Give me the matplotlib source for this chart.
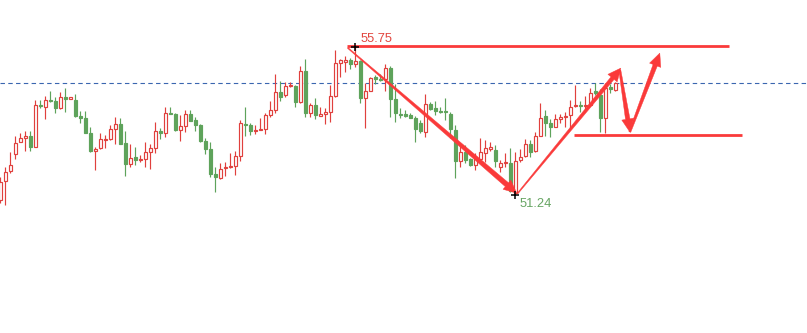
import matplotlib
matplotlib.use("Agg")
import matplotlib.pyplot as plt
import numpy as np
from matplotlib.patches import Polygon

# ---- data (prices) ----
opens = [51.02, 51.61, 51.92, 52.44, 52.79, 52.92, 52.98, 52.66, 53.94, 53.88,
         54.09, 54.06, 53.85, 54.17, 54.13, 54.09, 53.60, 53.53, 53.09, 52.53,
         52.61, 52.87, 52.88, 53.21, 53.34, 52.77, 52.13, 52.33, 52.26, 52.29,
         52.50, 52.63, 53.15, 53.09, 53.70, 53.66, 53.18, 53.30, 53.66, 53.48,
         53.32, 52.83, 52.59, 51.82, 51.70, 52.01, 52.03, 52.07, 52.38, 53.35,
         53.31, 53.15, 53.18, 53.21, 53.63, 53.78, 54.34, 54.24, 54.51, 54.52,
         54.04, 54.97, 53.68, 53.94, 53.61, 53.65, 53.73, 54.22, 55.24, 55.27,
         55.32, 55.19, 55.29, 54.16, 54.38, 54.81, 54.73, 54.73, 55.07, 54.12,
         53.67, 53.67, 53.63, 53.53, 53.38, 53.12, 53.98, 53.84, 53.75, 53.74,
         53.66, 53.17, 52.23, 52.49, 52.27, 52.10, 52.27, 52.47, 52.59, 52.56,
         52.04, 52.15, 52.15, 51.24, 52.24, 52.38, 52.74, 52.52, 52.98, 53.60,
         53.39, 53.27, 53.52, 53.57, 53.63, 53.91, 53.94, 53.91, 53.94, 54.38,
         54.24, 53.53, 54.48, 54.40]
highs = [51.74, 52.04, 52.50, 52.98, 53.09, 53.14, 53.15, 54.09, 54.09, 54.21,
         54.37, 54.17, 54.34, 54.46, 54.17, 54.27, 53.75, 53.75, 53.27, 52.64,
         53.07, 53.02, 53.32, 53.56, 53.53, 53.14, 52.73, 52.64, 52.40, 52.79,
         52.74, 53.41, 53.22, 53.87, 53.87, 53.70, 53.63, 53.78, 53.78, 53.58,
         53.34, 52.91, 52.81, 52.04, 52.15, 52.20, 52.45, 52.52, 53.48, 53.87,
         53.37, 53.31, 53.54, 53.68, 54.06, 54.89, 54.66, 54.64, 54.63, 54.54,
         55.13, 55.35, 54.01, 54.16, 53.87, 53.84, 54.55, 55.63, 55.35, 55.44,
         55.37, 55.75, 55.32, 54.60, 54.81, 54.86, 54.88, 55.20, 55.13, 54.57,
         53.85, 53.78, 53.70, 53.59, 53.48, 54.26, 54.02, 54.05, 53.88, 54.15,
         53.71, 53.32, 52.71, 52.71, 52.32, 52.47, 52.92, 52.86, 52.81, 52.71,
         52.25, 52.47, 52.61, 52.50, 52.58, 52.88, 52.86, 53.12, 54.01, 53.78,
         53.50, 53.65, 53.65, 53.73, 54.09, 54.55, 54.06, 54.21, 54.45, 54.62,
         54.42, 54.62, 54.58, 54.65]
lows = [50.94, 50.87, 51.86, 52.28, 52.79, 52.53, 52.53, 52.66, 53.85, 53.51,
        54.04, 53.70, 53.81, 53.73, 54.13, 53.58, 53.37, 53.09, 52.49, 51.94,
        52.59, 52.63, 52.86, 52.73, 52.74, 51.77, 52.04, 52.09, 52.20, 52.04,
        51.98, 52.47, 52.89, 52.96, 53.66, 53.14, 52.84, 53.12, 53.45, 53.15,
        52.80, 52.44, 51.74, 51.27, 51.66, 51.77, 51.99, 51.79, 52.23, 52.99,
        53.02, 53.05, 53.17, 53.06, 53.58, 53.70, 54.07, 54.17, 54.48, 53.88,
        54.01, 53.58, 53.58, 53.51, 53.59, 53.34, 53.42, 54.19, 54.81, 54.96,
        55.04, 55.11, 54.01, 53.24, 54.38, 54.57, 54.67, 54.36, 53.58, 53.42,
        53.55, 53.56, 53.53, 52.81, 53.08, 52.95, 53.78, 53.63, 53.68, 53.48,
        52.91, 51.70, 52.04, 52.15, 52.06, 51.94, 52.15, 52.20, 52.53, 52.04,
        51.87, 52.04, 51.26, 51.24, 52.20, 52.35, 52.35, 52.50, 52.98, 52.98,
        52.96, 53.27, 53.39, 53.27, 53.22, 53.88, 53.73, 53.83, 53.91, 54.24,
        53.12, 53.07, 54.30, 54.38]
closes = [51.58, 51.87, 52.09, 52.76, 52.92, 52.98, 52.66, 53.94, 53.91, 54.09,
          54.06, 53.85, 54.17, 54.13, 54.17, 53.61, 53.55, 53.09, 52.52, 52.59,
          52.88, 52.88, 53.19, 53.34, 52.74, 52.12, 52.30, 52.25, 52.28, 52.48,
          52.61, 53.14, 53.09, 53.68, 53.67, 53.17, 53.28, 53.65, 53.45, 53.33,
          52.83, 52.59, 51.83, 51.72, 51.97, 52.03, 52.06, 52.37, 53.37, 53.32,
          53.15, 53.18, 53.21, 53.63, 53.78, 54.33, 54.17, 54.52, 54.56, 54.03,
          54.97, 53.68, 53.93, 53.63, 53.65, 53.73, 54.21, 55.22, 55.32, 55.32,
          55.19, 55.29, 54.14, 54.37, 54.77, 54.73, 54.69, 55.07, 54.12, 53.68,
          53.63, 53.61, 53.55, 53.21, 53.14, 53.97, 53.81, 53.76, 53.71, 53.71,
          53.20, 52.23, 52.49, 52.25, 52.10, 52.33, 52.49, 52.62, 52.64, 52.23,
          52.15, 52.18, 51.30, 52.22, 52.34, 52.73, 52.50, 52.98, 53.55, 53.39,
          53.27, 53.51, 53.56, 53.60, 53.87, 53.94, 53.90, 53.94, 54.31, 54.30,
          53.53, 54.45, 54.42, 54.60]

ref_level = 54.61          # dashed reference line
high_label = "55.75"
low_label = "51.24"
high_price = 55.75
low_price = 51.24
high_idx = 71
low_idx = 103

# drawn levels: (price, start index, end index)
top_level = (55.75, 69.4, 145.7)
bottom_level = (53.02, 114.7, 148.3)

# drawn arrows: (x0, y0, x1, y1) in (candle index, price)
arrow_pts = [
    (69.5, 55.69, 103.3, 51.23),
    (103.5, 51.23, 124.1, 55.07),
    (123.9, 55.01, 125.9, 53.11),
    (125.9, 53.11, 131.9, 55.53),
]
arrow_widths = [(1.0, 5.0), (1.0, 4.0), (2.0, 4.5), (2.0, 4.5)]

RED = "#e0403d"
GREEN = "#5ea35b"
LINE_RED = "#fa3a3a"

fig = plt.figure(figsize=(8.07, 3.33), dpi=100)
ax = fig.add_axes([0, 0, 1, 1])
ax.set_xlim(-0.06, -0.06 + 807 / 5)
ax.set_ylim(46.94, 57.16)
ax.axis("off")

idx = np.arange(len(opens))
o = np.array(opens); h = np.array(highs); l = np.array(lows); c = np.array(closes)
up = c >= o
colors = np.where(up, RED, GREEN)

ax.vlines(idx, l, h, colors=colors, linewidth=0.85, zorder=2)
bottoms = np.minimum(o, c)
heights = np.maximum(np.abs(c - o), 0.02)
ax.bar(idx[up], heights[up], bottom=bottoms[up], width=0.58,
       facecolor="white", edgecolor=RED, linewidth=0.85, zorder=3)
ax.bar(idx[~up], heights[~up], bottom=bottoms[~up], width=0.58,
       facecolor=GREEN, edgecolor=GREEN, linewidth=0.85, zorder=3)

ax.axhline(ref_level, color="#3a66b0", linewidth=0.8, linestyle=(0, (4, 3)), zorder=1)

ax.hlines(top_level[0], top_level[1], top_level[2], color=LINE_RED, linewidth=2.0, zorder=4)
ax.hlines(bottom_level[0], bottom_level[1], bottom_level[2], color=LINE_RED, linewidth=2.0, zorder=4)

inv = ax.transData.inverted()
for (x0, y0, x1, y1), (w0, w1) in zip(arrow_pts, arrow_widths):
    P0 = ax.transData.transform((x0, y0))
    P1 = ax.transData.transform((x1, y1))
    d = P1 - P0
    L = np.hypot(*d)
    u = d / L
    n = np.array([-u[1], u[0]])
    hl, hw = 13.0, 12.0
    B = P1 - u * hl
    pts = [P0 + n * w0 / 2, B + n * w1 / 2, B + n * hw / 2, P1,
           B - n * hw / 2, B - n * w1 / 2, P0 - n * w0 / 2]
    pts = inv.transform(np.array(pts))
    ax.add_patch(Polygon(pts, closed=True, facecolor=LINE_RED, edgecolor=LINE_RED,
                         linewidth=0.3, zorder=5))

ax.plot([high_idx], [high_price - 0.04], marker="+", color="black", markersize=5.5, mew=1.1, zorder=6)
ax.plot([low_idx], [low_price - 0.07], marker="+", color="black", markersize=5.5, mew=1.1, zorder=6)

ax.text(high_idx + 0.95, high_price + 0.03, high_label, color="#e2463f",
        fontsize=9.3, family="Liberation Sans", ha="left", va="bottom", zorder=6)
ax.text(low_idx + 0.75, low_price - 0.16, low_label, color="#67a563",
        fontsize=9.3, family="Liberation Sans", ha="left", va="top", zorder=6)

fig.savefig("out.png", dpi=100, facecolor="white")
